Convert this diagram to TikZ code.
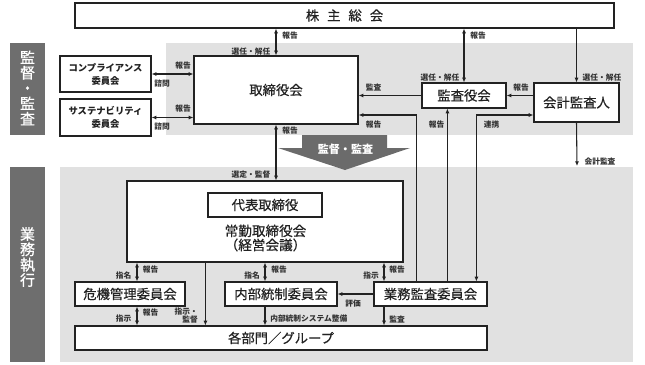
\documentclass[tikz,border=0pt]{standalone}
\usepackage{fontspec}
\setmainfont{Noto Sans CJK JP}
\newfontfamily\medfont{Noto Sans CJK JP}[FakeBold=0.6]
\usetikzlibrary{arrows.meta,calc}
\definecolor{band}{HTML}{E1E1E1}
\definecolor{labgray}{HTML}{6E6E6E}
\definecolor{arrgray}{HTML}{6B6B6B}
\definecolor{ink}{HTML}{222222}
\definecolor{lblink}{HTML}{333333}
\begin{document}
\begin{tikzpicture}[x=0.75pt,y=-0.75pt,
  box/.style={draw=ink,line width=0.9pt,fill=white,inner sep=0pt,font=\medfont\fontsize{10}{12}\selectfont,text=ink},
  smallbox/.style={box,font=\bfseries\fontsize{7}{9.75}\selectfont,align=center},
  lbl/.style={inner sep=0pt,font=\bfseries\fontsize{5.8}{6.2}\selectfont,text=lblink},
  side/.style={inner sep=0pt,align=center,text=white,font=\medfont\fontsize{11.25}{11.5}\selectfont},
  con/.style={draw=ink,line width=0.8pt},
  dbl/.style={con,{Latex[length=3.5pt,width=3pt]}-{Latex[length=3.5pt,width=3pt]}},
  one/.style={con,-{Latex[length=3.5pt,width=3pt]}}
]
\useasboundingbox (0,0) rectangle (645,364);
% bands
\fill[band] (166,43) rectangle (633,135);
\fill[band] (60,167) rectangle (633,362);
\fill[labgray] (10,43) rectangle (45,135);
\fill[labgray] (10,167) rectangle (45,362);
\node[side] (lab1) at (27.5,88) {監\\督\\・\\監\\査};
\node[side] (lab2) at (27.5,257) {業\\務\\執\\行};
% big arrow
\fill[arrgray] (302,135) -- (387,135) -- (387,148) -- (410,148) -- (345,170) -- (278,148) -- (302,148) -- cycle;
\node[inner sep=0pt,text=white,font=\bfseries\fontsize{8.3}{10}\selectfont] (kantoku) at (345.5,149) {監督・監査};
% boxes
\node[box,minimum width=404.25pt,minimum height=18.75pt] (kabu) at (344.5,15.5) {株\hspace{6pt}主\hspace{6pt}総\hspace{6pt}会};
\node[smallbox,minimum width=68.25pt,minimum height=27pt] (comp) at (105.5,74) {コンプライアンス\\委員会};
\node[smallbox,minimum width=68.25pt,minimum height=27.75pt] (sust) at (105.5,117.5) {サステナビリティ\\委員会};
\node[box,minimum width=123pt,minimum height=51pt] (board) at (276,90) {取締役会};
\node[box,minimum width=63pt,minimum height=18.75pt] (kansa) at (464,95.5) {監査役会};
\node[box,minimum width=63.75pt,minimum height=29.25pt] (kaikei) at (576.5,102.5) {会計監査人};
\node[box,minimum width=207pt,minimum height=60.75pt] (jokin) at (265,221.5) {};
\node[box,minimum width=85.5pt,minimum height=18pt] (daihyo) at (265,205) {代表取締役};
\node[inner sep=0pt,align=center,text=ink,font=\medfont\fontsize{10.2}{8.7}\selectfont] (jokintxt) at (265.5,238) {常勤取締役会\\（経営会議）};
\node[box,minimum width=82.5pt,minimum height=18pt] (kiki) at (130,294) {危機管理委員会};
\node[box,minimum width=84pt,minimum height=18pt] (naibu) at (281,294) {内部統制委員会};
\node[box,minimum width=84.75pt,minimum height=18pt] (gyomu) at (430.5,294) {業務監査委員会};
\node[box,minimum width=309pt,minimum height=18pt] (bumon) at (281,338) {各部門／グループ};
\coordinate (kaend) at (577,166);
% connectors top
\draw[dbl] (kabu.south -| board.north) -- (board.north);
\draw[dbl] (kabu.south -| kansa.north) -- (kansa.north);
\draw[one] (kabu.south -| kaikei.north) -- (kaikei.north);
\draw[dbl] (comp.east) -- (comp.east -| board.west);
\draw[dbl] (sust.east) -- (sust.east -| board.west);
\draw[one] (kaikei.west |- kansa.east) -- (kansa.east);
\draw[one] (kansa.west) -- (kansa.west -| board.east);
\draw[dbl] (board.south) -- (board.south |- jokin.north);
\draw[one] ($(gyomu.north west)+(43,0)$) |- ($(board.east)+(0,25)$);
\draw[one] ($(gyomu.north west)+(74,0)$) coordinate (g2) -- (g2 |- kansa.south);
\draw[dbl] ($(gyomu.north west)+(103,0)$) |- ($(kaikei.west)+(0,12.5)$);
\draw[one] (kaikei.south) -- (kaend);
% connectors bottom
\draw[dbl] ($(kiki.north)+(7,0)$) coordinate (k1) -- (k1 |- jokin.south);
\draw[dbl] ($(kiki.south)+(7,0)$) coordinate (k2) -- (k2 |- bumon.north);
\draw[one] ($(jokin.south west)+(79,0)$) coordinate (j1) -- (j1 |- bumon.north);
\draw[dbl] ($(naibu.north)+(-16,0)$) coordinate (n1) -- (n1 |- jokin.south);
\draw[one] ($(naibu.south)+(-16,0)$) coordinate (n2) -- (n2 |- bumon.north);
\draw[dbl] ($(gyomu.north)+(-46.5,0)$) coordinate (m1) -- (m1 |- jokin.south);
\draw[one] (gyomu.west) -- (naibu.east);
\draw[one] ($(gyomu.south)+(-46.5,0)$) coordinate (m2) -- (m2 |- bumon.north);
% labels top
\node[lbl] (l1) at (290,36) {報告};
\node[lbl] (l2) at (251,52) {選任・解任};
\node[lbl] (l3) at (183,66) {報告};
\node[lbl] (l4) at (162,84) {諮問};
\node[lbl] (l5) at (183,108.5) {報告};
\node[lbl] (l6) at (162,126.5) {諮問};
\node[lbl] (l7) at (290,131) {報告};
\node[lbl] (l8) at (251,174.5) {選定・監督};
\node[lbl] (l9) at (478,36) {報告};
\node[lbl] (l10) at (440,78) {選任・解任};
\node[lbl] (l11) at (602,78) {選任・解任};
\node[lbl] (l12) at (521,87.5) {報告};
\node[lbl] (l13) at (373.5,87.5) {監査};
\node[lbl] (l14) at (373.5,125) {報告};
\node[lbl] (l15) at (436.5,125) {報告};
\node[lbl] (l16) at (491.5,125) {連携};
\node[lbl] (l17) at (600,161.5) {会計監査};
% labels bottom
\node[lbl] (b1) at (123.5,276) {指名};
\node[lbl] (b2) at (150.5,270) {報告};
\node[lbl] (b3) at (123.5,319) {指示};
\node[lbl] (b4) at (150.5,313) {報告};
\node[lbl,align=right,anchor=east] (b5) at (198,315.5) {指示・\\監督};
\node[lbl] (b6) at (252,276) {指名};
\node[lbl] (b7) at (279,270) {報告};
\node[lbl,anchor=west] (b8) at (270,319) {内部統制システム整備};
\node[lbl] (b9) at (371,276) {指示};
\node[lbl] (b10) at (397,270) {報告};
\node[lbl] (b11) at (353,304) {評価};
\node[lbl] (b12) at (397,319) {監査};
\end{tikzpicture}
\end{document}
